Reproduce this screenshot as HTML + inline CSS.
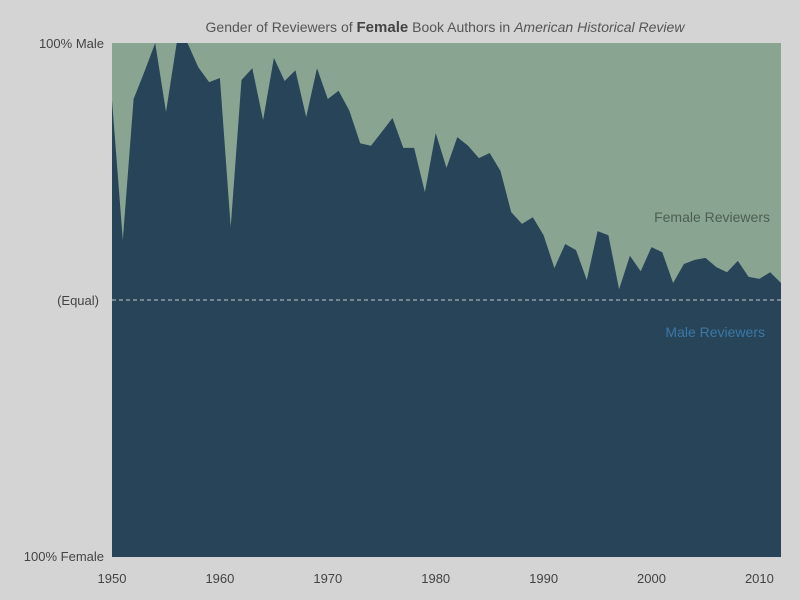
<!DOCTYPE html>
<html><head><meta charset="utf-8"><style>
body{margin:0;background:#d4d4d4;font-family:"Liberation Sans",sans-serif}
svg{display:block}
</style></head><body>
<svg width="800" height="600" id="c" xmlns="http://www.w3.org/2000/svg">
<rect width="800" height="600" fill="#d4d4d4"/>
<text x="445" y="32" text-anchor="middle" font-size="14" fill="#555">Gender of Reviewers of <tspan font-weight="bold" font-size="15" fill="#444">Female</tspan> Book Authors in <tspan font-style="italic">American Historical Review</tspan></text>
<rect x="112" y="43" width="669" height="514" fill="#89a592"/>
<g id="areas"></g>
<line x1="112" x2="781" y1="300" y2="300" stroke="#c8c8c8" stroke-dasharray="4,3" stroke-width="1"/>
<text x="104" y="48" text-anchor="end" font-size="13" fill="#444">100% Male</text>
<text x="99" y="305" text-anchor="end" font-size="13" fill="#444">(Equal)</text>
<text x="104" y="561" text-anchor="end" font-size="13" fill="#444">100% Female</text>
<text x="770" y="222" text-anchor="end" font-size="14" fill="#4d5e50">Female Reviewers</text>
<text x="765" y="337" text-anchor="end" font-size="14" fill="#3a78a6">Male Reviewers</text>
<g id="xticks"></g>
</svg>
<script>
const years=[];for(let y=1950;y<=2012;y++)years.push(y);
const malePct=[88.9,61.7,89.1,94.4,100,86.6,100,100,95.3,92.4,
93.2,64.2,92.8,95.1,85.0,97.1,92.6,94.7,85.6,95.1,
89.1,90.7,86.8,80.5,80.0,82.7,85.4,79.6,79.6,71.0,
82.5,75.7,81.7,80.0,77.6,78.6,75.1,67.1,64.8,66.1,
62.6,56.2,60.9,59.7,53.9,63.4,62.6,52.1,58.6,55.6,
60.3,59.3,53.3,57.0,57.8,58.2,56.4,55.4,57.6,54.5,
54.1,55.4,53.3];
const tickYears=[1950,1960,1970,1980,1990,2000,2010];
const X=y=>112+(y-1950)*(669/62);
const Y=v=>557-v/100*514;
const NS="http://www.w3.org/2000/svg";
let d="M"+X(1950)+",557";
years.forEach((yr,i)=>{d+=" L"+X(yr).toFixed(1)+","+Y(malePct[i]).toFixed(1);});
d+=" L"+X(2012)+",557 Z";
const p=document.createElementNS(NS,"path");
p.setAttribute("d",d);p.setAttribute("fill","#284459");


document.getElementById("areas").appendChild(p);
const g=document.getElementById("xticks");
tickYears.forEach(t=>{
 const tx=document.createElementNS(NS,"text");
 tx.setAttribute("x",X(t));tx.setAttribute("y",583);
 tx.setAttribute("text-anchor","middle");tx.setAttribute("font-size","13");tx.setAttribute("fill","#444");
 tx.textContent=t;
 
 
 g.appendChild(tx);
});
</script>
</body></html>
